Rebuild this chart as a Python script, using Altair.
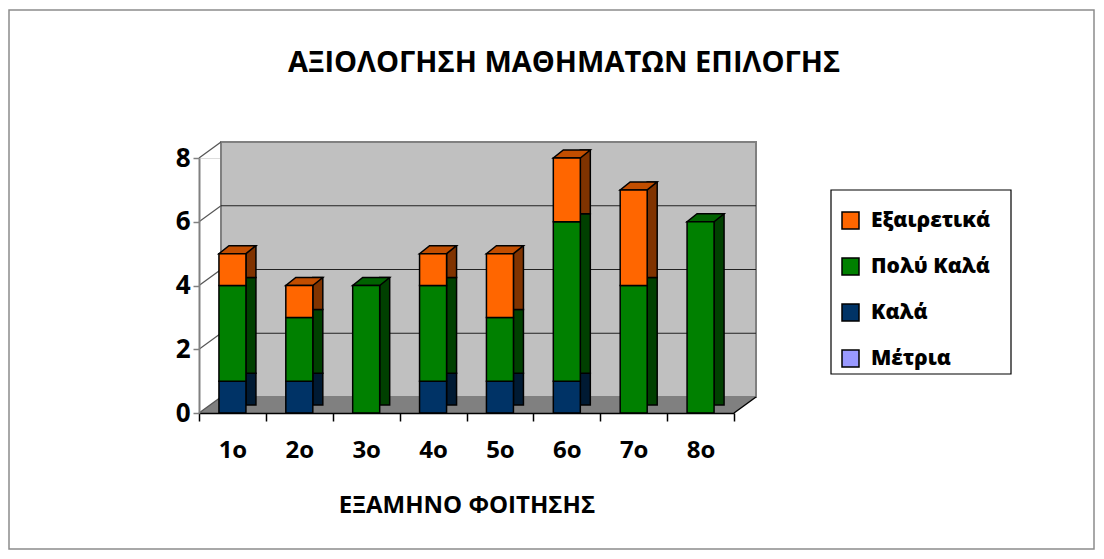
import altair as alt
import pandas as pd

# ---------------- data ----------------
semesters = ["1ο", "2ο", "3ο", "4ο", "5ο", "6ο", "7ο", "8ο"]
metria = [0, 0, 0, 0, 0, 0, 0, 0]
kala = [1, 1, 0, 1, 1, 1, 0, 0]
poly_kala = [3, 2, 4, 3, 2, 5, 4, 6]
exairetika = [1, 1, 0, 1, 2, 2, 3, 0]
y_ticks = [0, 2, 4, 6, 8]

grades = ["Εξαιρετικά", "Πολύ Καλά", "Καλά", "Μέτρια"]
front_colors = ["#FF6600", "#008000", "#003366", "#9999FF"]
side_colors = {"Εξαιρετικά": "#803300", "Πολύ Καλά": "#004000",
               "Καλά": "#001A33", "Μέτρια": "#5C5C99"}
top_colors = {"Εξαιρετικά": "#C24E00", "Πολύ Καλά": "#006200",
              "Καλά": "#00284F", "Μέτρια": "#7A7ACC"}

title_text = "ΑΞΙΟΛΟΓΗΣΗ ΜΑΘΗΜΑΤΩΝ ΕΠΙΛΟΓΗΣ"
x_title = "ΕΞΑΜΗΝΟ ΦΟΙΤΗΣΗΣ"

# ---------------- layout ----------------
W, H = 535, 255
DX, DY = 22, -16      # wall depth
BW = 27               # bar front width
BX, BY = 10, -8       # bar depth
FONT = "Open Sans"
TOP_PATH = f"M{-BW/2},0L{BW/2},0L{BW/2+BX},{BY}L{-BW/2+BX},{BY}Z"

rows = []
series = [("Μέτρια", metria), ("Καλά", kala), ("Πολύ Καλά", poly_kala), ("Εξαιρετικά", exairetika)]
for i, s in enumerate(semesters):
    base = 0
    total = sum(vals[i] for _, vals in series)
    for g, vals in series:
        v = vals[i]
        if v > 0:
            rows.append({"semester": s, "grade": g, "y0": base, "y1": base + v,
                         "side": side_colors[g], "topc": top_colors[g],
                         "is_top": base + v == total})
        base += v
bars = pd.DataFrame(rows)
tops = bars[bars["is_top"]]

one = pd.DataFrame({"a": [0]})
ticks_df = pd.DataFrame({"g": y_ticks})
grid_df = pd.DataFrame({"g": [t for t in y_ticks if 0 < t < 8]})
floor_df = pd.DataFrame({"px": [0, DX, W, W + DX],
                         "top": [H, H + DY, H + DY, H + DY],
                         "bot": [H, H, H, H + DY]})

yscale = alt.Scale(domain=[0, 8])
xscale = alt.Scale(domain=semesters, paddingInner=0, paddingOuter=0)

x_axis = alt.Axis(title=None, labelAngle=0, labelFont=FONT, labelFontSize=24,
                  labelFontWeight="bold", labelColor="black", labelPadding=17,
                  tickBand="extent", tickSize=8, tickColor="black", tickWidth=1.5,
                  domainColor="black", domainWidth=1.5, labelBaseline="top", grid=False,
                  zindex=1)
y_axis = alt.Axis(title=None, values=y_ticks, labelFont=FONT, labelFontSize=26,
                  labelFontWeight="bold", labelColor="black", labelPadding=3,
                  tickSize=6, tickColor="#808080", tickWidth=1.5,
                  domainColor="#808080", domainWidth=2, grid=False, zindex=1)

X = alt.X("semester:N", sort=semesters, scale=xscale, axis=x_axis)

border = alt.Chart(one).mark_rect(fill="white", fillOpacity=0, stroke="#8C8C8C",
                                  strokeWidth=1.5).encode(
    x=alt.value(-190), x2=alt.value(895), y=alt.value(-148), y2=alt.value(391))

back_wall = alt.Chart(one).mark_rect(fill="#C0C0C0", stroke="#808080", strokeWidth=2).encode(
    x=alt.value(DX), x2=alt.value(W + DX), y=alt.value(DY), y2=alt.value(H + DY))

floor = alt.Chart(floor_df).mark_area(color="#808080", opacity=1).encode(
    x=alt.X("px:Q", scale=None, axis=None),
    y=alt.Y("top:Q", scale=None, axis=None),
    y2="bot:Q")

grid = alt.Chart(grid_df).mark_rule(color="#222222", strokeWidth=1.2, yOffset=DY).encode(
    x=alt.value(DX), x2=alt.value(W + DX),
    y=alt.Y("g:Q", scale=yscale, axis=y_axis))

left_diag = alt.Chart(ticks_df).mark_rule(color="#555555", strokeWidth=1.2, y2Offset=DY).encode(
    x=alt.value(0), x2=alt.value(DX),
    y=alt.Y("g:Q", scale=yscale, axis=y_axis), y2="g:Q")

right_edge = alt.Chart(one).mark_rule(color="black", strokeWidth=1.5).encode(
    x=alt.value(W), x2=alt.value(W + DX), y=alt.value(H), y2=alt.value(H + DY))

# side faces of the bars
bars_side = alt.Chart(bars).mark_bar(width=BX, stroke="black", strokeWidth=1.5,
                                     xOffset=BW / 2 + BX / 2, yOffset=BY, y2Offset=BY).encode(
    x=X,
    y=alt.Y("y0:Q", scale=yscale, axis=y_axis),
    y2="y1:Q",
    color=alt.Color("side:N", scale=None))

# top faces of the stacks
bars_top = alt.Chart(tops).mark_point(shape=TOP_PATH, size=4, filled=True, opacity=1,
                                      stroke="black", strokeWidth=1.5).encode(
    x=X,
    y=alt.Y("y1:Q", scale=yscale, axis=y_axis),
    fill=alt.Fill("topc:N", scale=None))

bars_front = alt.Chart(bars).mark_bar(width=BW, stroke="black", strokeWidth=1.5).encode(
    x=X,
    y=alt.Y("y0:Q", scale=yscale, axis=y_axis),
    y2="y1:Q",
    color=alt.Color("grade:N", scale=alt.Scale(domain=grades, range=front_colors),
                    legend=alt.Legend(title=None, orient="none", legendX=641, legendY=52,
                                      symbolType="square", symbolSize=289,
                                      symbolStrokeColor="black", symbolStrokeWidth=1.5,
                                      labelFont=FONT, labelFontSize=21, labelFontWeight=900,
                                      labelColor="black", labelOffset=10, rowPadding=23,
                                      padding=0)))

legend_box = alt.Chart(one).mark_rect(fill="white", stroke="black", strokeWidth=1.2).encode(
    x=alt.value(632), x2=alt.value(812), y=alt.value(32), y2=alt.value(216))

title = alt.Chart(pd.DataFrame({"t": [title_text]})).mark_text(
    font=FONT, fontSize=29, fontWeight="bold", color="black", align="center",
    baseline="alphabetic").encode(text="t:N", x=alt.value(365), y=alt.value(-86))

xtitle = alt.Chart(pd.DataFrame({"t": [x_title]})).mark_text(
    font=FONT, fontSize=24, fontWeight="bold", color="black", align="center",
    baseline="alphabetic").encode(text="t:N", x=alt.value(268), y=alt.value(355))

chart = alt.layer(
    border, back_wall, floor, grid, left_diag, right_edge, legend_box,
    bars_side, bars_top, bars_front, title, xtitle
).properties(
    width=W, height=H,
    autosize=alt.AutoSizeParams(type="none"),
    padding={"left": 191, "top": 150, "right": 362, "bottom": 138},
).configure_view(stroke=None).configure(background="white")

chart.save("out.html", embed_options={"renderer": "svg", "actions": False})
